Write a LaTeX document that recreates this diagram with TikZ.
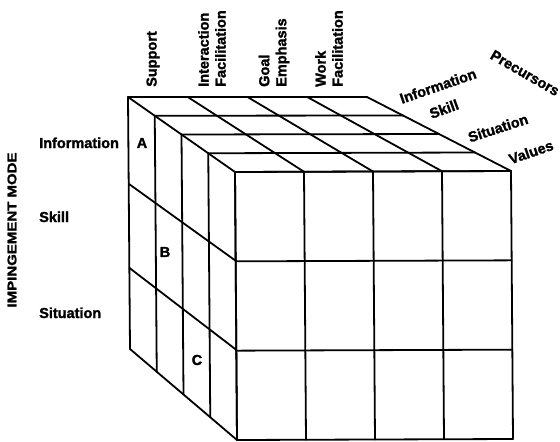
\documentclass[tikz,border=0pt]{standalone}
\usepackage{fontspec}
\setmainfont{Liberation Sans}[BoldFont={Liberation Sans Bold}, BoldFeatures={FakeBold=1.6}]
\usetikzlibrary{calc}
\begin{document}
\begin{tikzpicture}[x=1pt,y=-1pt,
  grid/.style={line width=1.8pt, line cap=round, line join=round},
  lbl/.style={font=\fontsize{14.5}{17}\selectfont\bfseries, inner sep=0pt}]
\useasboundingbox (0,0) rectangle (560,442);
% corners
\coordinate (BTL) at (128,97);
\coordinate (BTR) at (367,97);
\coordinate (FTL) at (235,172);
\coordinate (FTR) at (511,171);
\coordinate (BBL) at (130,349);
\coordinate (FBL) at (237,440);
\coordinate (FBR) at (513,439);
% top face
\foreach \k in {0,...,4}
  \draw[grid] ($(BTL)!\k/4!(FTL)$) -- ($(BTR)!\k/4!(FTR)$);
\foreach \j in {0,...,4}
  \draw[grid] ($(BTL)!\j/4!(BTR)$) -- ($(FTL)!\j/4!(FTR)$);
% left face
\foreach \k in {0,...,4}
  \draw[grid] ($(BTL)!\k/4!(FTL)$) -- ($(BBL)!\k/4!(FBL)$);
\coordinate (LB1) at (129,184);
\coordinate (LF1) at (236,261);
\coordinate (LB2) at (129.5,268);
\coordinate (LF2) at (236.5,350);
\draw[grid] (LB1) -- (LF1);
\draw[grid] (LB2) -- (LF2);
\draw[grid] (BBL) -- (FBL);
% front face
\foreach \j in {0,...,4}
  \draw[grid] ($(FTL)!\j/4!(FTR)$) -- ($(FBL)!\j/4!(FBR)$);
\foreach \r in {0,...,3}
  \draw[grid] ($(FTL)!\r/3!(FBL)$) -- ($(FTR)!\r/3!(FBR)$);
% column labels
\node[lbl, rotate=90, anchor=west, align=left] (sup) at (153,87) {Support};
\node[lbl, rotate=90, anchor=west, align=left] (intf) at (212,87) {Interaction\\Facilitation};
\node[lbl, rotate=90, anchor=west, align=left] (goal) at (274,87) {Goal\\Emphasis};
\node[lbl, rotate=90, anchor=west, align=left] (work) at (329,87) {Work\\Facilitation};
% row labels
\node[lbl, anchor=base west] (linfo) at (39,148) {Information};
\node[lbl, anchor=base west] (lskill) at (39,222) {Skill};
\node[lbl, anchor=base west] (lsit) at (39,318) {Situation};
\node[font=\fontsize{12.5}{14}\selectfont\bfseries, rotate=90, inner sep=0pt] (mode) at (12,230) {\scalebox{1.2}[1]{IMPINGEMENT MODE}};
% depth labels
\node[lbl, rotate=19] (rinfo) at (438,86) {Information};
\node[lbl, rotate=-30] (prec) at (525,73) {Precursors};
\node[lbl, rotate=20] (rskill) at (444,109) {Skill};
\node[lbl, rotate=18] (rsit) at (498,128) {Situation};
\node[lbl, rotate=19] (rval) at (531,152) {Values};
% cell labels
\node[lbl] (ca) at (142,143) {A};
\node[lbl] (cb) at (165,252) {B};
\node[lbl] (cc) at (197,360) {C};
\end{tikzpicture}
\end{document}
